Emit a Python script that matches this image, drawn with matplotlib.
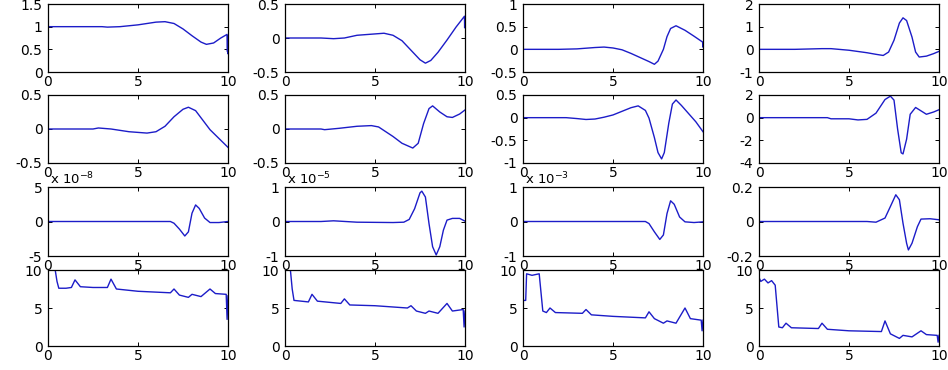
# 4x4 grid of response curves, MATLAB-like look
import matplotlib
matplotlib.use('Agg')
import matplotlib.pyplot as plt

plt.rcParams['font.family'] = ['DejaVu Sans']
plt.rcParams['axes.unicode_minus'] = False

# ---- data ----
x_r1c1 = [0, 0, 1, 2, 3, 3.3, 4, 5, 5.5, 6, 6.5, 7, 7.5, 8, 8.5, 8.8, 9.2, 9.6, 9.95, 9.97, 9.98, 10, 10]
y_r1c1 = [0, 1, 1, 1, 1, 0.99, 1.0, 1.04, 1.07, 1.10, 1.11, 1.07, 0.95, 0.80, 0.66, 0.61, 0.64, 0.75, 0.83, 0.45, 0.8, 0.4, 0.8]

x_r1c2 = [0, 1, 2, 2.7, 3.3, 4, 5, 5.5, 6, 6.5, 7, 7.5, 7.8, 8.1, 8.5, 9, 9.5, 9.97, 9.98, 10]
y_r1c2 = [0, 0, 0, -0.01, 0.0, 0.04, 0.06, 0.07, 0.04, -0.04, -0.18, -0.32, -0.37, -0.33, -0.21, -0.03, 0.16, 0.32, 0.15, 0.3]

x_r1c3 = [0, 1, 2, 3, 4, 4.5, 5, 5.5, 6, 6.5, 7, 7.3, 7.5, 7.8, 8, 8.2, 8.5, 9, 9.5, 9.98, 9.99, 10]
y_r1c3 = [0, 0, 0, 0.01, 0.04, 0.05, 0.03, -0.01, -0.09, -0.18, -0.27, -0.33, -0.26, 0.0, 0.28, 0.46, 0.52, 0.42, 0.29, 0.16, 0.05, 0.14]

x_r1c4 = [0, 1, 2, 2.5, 3.5, 4, 5, 6, 6.5, 6.9, 7.2, 7.5, 7.8, 8, 8.2, 8.5, 8.7, 8.9, 9.3, 9.7, 10]
y_r1c4 = [0, 0, 0, 0.01, 0.03, 0.03, -0.04, -0.15, -0.22, -0.27, -0.12, 0.4, 1.16, 1.39, 1.27, 0.54, -0.12, -0.34, -0.3, -0.19, -0.09]

x_r2c1 = [0, 1, 2, 2.5, 2.8, 3.5, 4.5, 5.5, 6, 6.5, 7, 7.5, 7.8, 8.2, 8.6, 9, 9.5, 10]
y_r2c1 = [0, 0, 0, 0, 0.015, 0.0, -0.04, -0.06, -0.04, 0.04, 0.18, 0.29, 0.32, 0.27, 0.13, -0.01, -0.14, -0.27]

x_r2c2 = [0, 1, 2, 2.2, 3, 4, 4.8, 5.2, 6, 6.5, 7.1, 7.4, 7.7, 8, 8.2, 8.6, 9, 9.3, 9.7, 10]
y_r2c2 = [0, 0, 0, -0.01, 0.01, 0.04, 0.05, 0.03, -0.11, -0.21, -0.28, -0.21, 0.08, 0.30, 0.34, 0.25, 0.18, 0.17, 0.22, 0.28]

x_r2c3 = [0, 1, 2.4, 3, 3.5, 4, 4.5, 5, 5.5, 6, 6.4, 6.8, 7, 7.3, 7.5, 7.7, 7.85, 8.1, 8.3, 8.5, 8.8, 9.2, 9.6, 10]
y_r2c3 = [0, 0, 0, -0.02, -0.04, -0.03, 0.01, 0.06, 0.14, 0.22, 0.26, 0.16, -0.01, -0.44, -0.77, -0.91, -0.77, -0.12, 0.30, 0.39, 0.27, 0.09, -0.09, -0.31]

x_r2c4 = [0, 1, 2, 3.8, 4, 5, 5.5, 6, 6.5, 7, 7.3, 7.5, 7.7, 7.9, 8, 8.2, 8.4, 8.7, 9, 9.3, 9.7, 10]
y_r2c4 = [0, 0, 0, 0, -0.1, -0.1, -0.2, -0.15, 0.4, 1.6, 1.9, 1.55, -1.0, -3.1, -3.2, -1.9, 0.3, 0.9, 0.6, 0.3, 0.5, 0.7]

# row 3 values are in units of the exponent shown above each panel
x_r3c1 = [0, 2, 4, 6, 6.8, 7, 7.3, 7.6, 7.8, 8, 8.2, 8.4, 8.7, 9, 9.5, 10]
y_r3c1 = [0, 0, 0, 0, 0, -0.25, -1.1, -2.1, -1.5, 1.2, 2.4, 1.9, 0.5, -0.15, -0.15, 0]

x_r3c2 = [0, 2, 2.7, 4, 6, 6.6, 6.9, 7.2, 7.5, 7.6, 7.8, 8, 8.2, 8.4, 8.6, 8.8, 9, 9.3, 9.7, 10]
y_r3c2 = [0, 0, 0.02, -0.02, -0.03, -0.02, 0.06, 0.37, 0.83, 0.88, 0.71, -0.06, -0.73, -0.97, -0.73, -0.25, 0.04, 0.09, 0.09, 0.01]

x_r3c3 = [0, 2, 4, 6, 6.8, 7, 7.3, 7.6, 7.8, 8, 8.2, 8.4, 8.7, 9, 9.5, 10]
y_r3c3 = [0, 0, 0, 0, 0, -0.06, -0.30, -0.52, -0.39, 0.23, 0.60, 0.50, 0.13, -0.01, -0.03, -0.01]

x_r3c4 = [0, 2, 4, 6, 6.5, 7, 7.3, 7.6, 7.8, 8, 8.2, 8.3, 8.5, 8.8, 9, 9.5, 10]
y_r3c4 = [0, 0, 0, 0, -0.004, 0.02, 0.087, 0.155, 0.126, -0.01, -0.126, -0.165, -0.126, -0.03, 0.014, 0.016, 0.01]

x_r4c1 = [0.4, 0.5, 0.6, 1.0, 1.3, 1.5, 1.8, 2.5, 3.3, 3.5, 3.8, 5, 6.8, 7.0, 7.3, 7.8, 8.0, 8.5, 9.0, 9.3, 9.9, 9.95, 10]
y_r4c1 = [10, 8.5, 7.6, 7.6, 7.7, 8.7, 7.8, 7.7, 7.7, 8.8, 7.5, 7.2, 7.0, 7.5, 6.7, 6.4, 6.8, 6.5, 7.5, 6.9, 6.8, 3.5, 6.6]

x_r4c2 = [0.3, 0.4, 0.5, 1.3, 1.5, 1.8, 3.1, 3.3, 3.6, 5, 6.8, 7.0, 7.3, 7.8, 8.0, 8.5, 9.0, 9.3, 9.9, 9.95, 10]
y_r4c2 = [10, 7.5, 6.0, 5.8, 6.8, 5.9, 5.6, 6.2, 5.4, 5.3, 5.0, 5.3, 4.6, 4.3, 4.6, 4.3, 5.6, 4.6, 4.8, 2.5, 4.6]

x_r4c3 = [0, 0.15, 0.2, 0.5, 0.9, 1.1, 1.3, 1.5, 1.8, 3.3, 3.5, 3.8, 5, 6.8, 7.0, 7.3, 7.8, 8.0, 8.5, 9.0, 9.3, 9.9, 9.95, 10]
y_r4c3 = [6, 6, 9.5, 9.3, 9.5, 4.6, 4.4, 5.0, 4.4, 4.3, 4.8, 4.1, 3.9, 3.7, 4.5, 3.6, 3.0, 3.3, 3.0, 5.0, 3.6, 3.4, 2.0, 3.4]

x_r4c4 = [0, 0.1, 0.3, 0.5, 0.7, 0.9, 1.1, 1.3, 1.5, 1.8, 3.3, 3.5, 3.8, 5, 6.8, 7.0, 7.3, 7.8, 8.0, 8.5, 9.0, 9.3, 9.9, 9.95, 10]
y_r4c4 = [9, 8.5, 8.8, 8.3, 8.6, 8.0, 2.5, 2.4, 3.0, 2.4, 2.3, 3.0, 2.2, 2.0, 1.9, 3.3, 1.6, 1.0, 1.4, 1.2, 2.0, 1.5, 1.4, 0.5, 1.4]

xs = [[x_r1c1, x_r1c2, x_r1c3, x_r1c4],
      [x_r2c1, x_r2c2, x_r2c3, x_r2c4],
      [x_r3c1, x_r3c2, x_r3c3, x_r3c4],
      [x_r4c1, x_r4c2, x_r4c3, x_r4c4]]
ys = [[y_r1c1, y_r1c2, y_r1c3, y_r1c4],
      [y_r2c1, y_r2c2, y_r2c3, y_r2c4],
      [y_r3c1, y_r3c2, y_r3c3, y_r3c4],
      [y_r4c1, y_r4c2, y_r4c3, y_r4c4]]

yticks = [[[0, 0.5, 1, 1.5], [-0.5, 0, 0.5], [-0.5, 0, 0.5, 1], [-1, 0, 1, 2]],
          [[-0.5, 0, 0.5], [-0.5, 0, 0.5], [-1, -0.5, 0, 0.5], [-4, -2, 0, 2]],
          [[-5, 0, 5], [-1, 0, 1], [-1, 0, 1], [-0.2, 0, 0.2]],
          [[0, 5, 10], [0, 5, 10], [0, 5, 10], [0, 5, 10]]]
exponents = [[None] * 4, [None] * 4, ['-8', '-5', '-3', None], [None] * 4]

# ---- layout in pixels ----
W, H = 948, 370
lefts = [48, 285, 523, 759]
tops = [4, 95, 187, 270]
bottoms = [72, 163, 256, 346]
aw = 180

fig = plt.figure(figsize=(W / 100, H / 100), dpi=100)

def fmt(v):
    if v == int(v):
        return '%d' % v
    return ('%g' % v)

for r in range(4):
    for c in range(4):
        ah = bottoms[r] - tops[r]
        ax = fig.add_axes([lefts[c] / W, 1 - bottoms[r] / H, aw / W, ah / H])
        ax.plot(xs[r][c], ys[r][c], color='#1c1cc8', lw=1.0)
        yt = yticks[r][c]
        ax.set_xlim(0, 10)
        ax.set_ylim(yt[0], yt[-1])
        ax.set_xticks([0, 5, 10])
        ax.set_xticklabels(['0', '5', '10'])
        ax.set_yticks(yt)
        ax.set_yticklabels([fmt(v) for v in yt])
        ax.tick_params(direction='in', length=3, width=0.7, top=True, right=True,
                       labelsize=10, pad=2)
        ax.tick_params(axis='y', pad=4)
        for s in ax.spines.values():
            s.set_linewidth(0.9)
        if exponents[r][c]:
            ax.text(0.01, 1.0, r'x 10$^{%s}$' % exponents[r][c], transform=ax.transAxes,
                    ha='left', va='bottom', fontsize=9.5)

fig.savefig('out.png', dpi=100)
